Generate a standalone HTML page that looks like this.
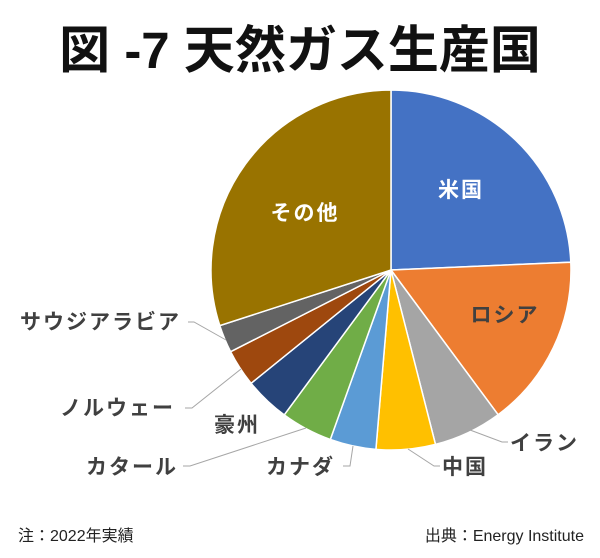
<!DOCTYPE html>
<html><head><meta charset="utf-8"><style>
body{margin:0;background:#fff;}
svg{display:block;font-family:"Liberation Sans","Noto Sans CJK JP",sans-serif;}
</style></head><body>
<svg width="600" height="558" viewBox="0 0 600 558">
<text x="300" y="68" text-anchor="middle" font-size="51" font-weight="bold" fill="#111">図 -7 天然ガス生産国</text>
<g stroke="#fff" stroke-width="1.5">
<path d="M391,270 L391,90 A180,180 0 0 1 570.8,262.2 Z" fill="#4472C4"/>
<path d="M391,270 L570.8,262.2 A180,180 0 0 1 498.1,414.7 Z" fill="#ED7D31"/>
<path d="M391,270 L498.1,414.7 A180,180 0 0 1 435.5,444.4 Z" fill="#A5A5A5"/>
<path d="M391,270 L435.5,444.4 A180,180 0 0 1 375.9,449.4 Z" fill="#FFC000"/>
<path d="M391,270 L375.9,449.4 A180,180 0 0 1 330.3,439.5 Z" fill="#5B9BD5"/>
<path d="M391,270 L330.3,439.5 A180,180 0 0 1 284.2,414.9 Z" fill="#70AD47"/>
<path d="M391,270 L284.2,414.9 A180,180 0 0 1 251.1,383.3 Z" fill="#264478"/>
<path d="M391,270 L251.1,383.3 A180,180 0 0 1 230.6,351.7 Z" fill="#9E480E"/>
<path d="M391,270 L230.6,351.7 A180,180 0 0 1 219.8,325.6 Z" fill="#636363"/>
<path d="M391,270 L219.8,325.6 A180,180 0 0 1 391,90 Z" fill="#997300"/>
</g>
<g fill="none" stroke="#A6A6A6" stroke-width="1">
<polyline points="188,322 194,322 226,340"/>
<polyline points="185,408 192,408 241,369"/>
<polyline points="183,466 190,466 306,428"/>
<polyline points="343,466 350,466 353,446"/>
<polyline points="440,466 434,466 408,449"/>
<polyline points="508,442 502,442 470,430"/>
</g>
<g font-size="21" font-weight="bold" letter-spacing="2">
<text x="461" y="197" text-anchor="middle" fill="#fff">米国</text>
<text x="505" y="322" text-anchor="middle" fill="#404040">ロシア</text>
<text x="305" y="220" text-anchor="middle" fill="#fff">その他</text>
<text x="20" y="329" fill="#404040">サウジアラビア</text>
<text x="60" y="415" fill="#404040">ノルウェー</text>
<text x="214" y="432" fill="#404040">豪州</text>
<text x="86" y="474" fill="#404040">カタール</text>
<text x="266" y="474" fill="#404040">カナダ</text>
<text x="442" y="474" fill="#404040">中国</text>
<text x="510" y="450" fill="#404040">イラン</text>
</g>
<text x="18" y="541" font-size="16" fill="#222">注：2022年実績</text>
<text x="584" y="541" font-size="16" fill="#222" text-anchor="end">出典：Energy Institute</text>
</svg>
</body></html>
